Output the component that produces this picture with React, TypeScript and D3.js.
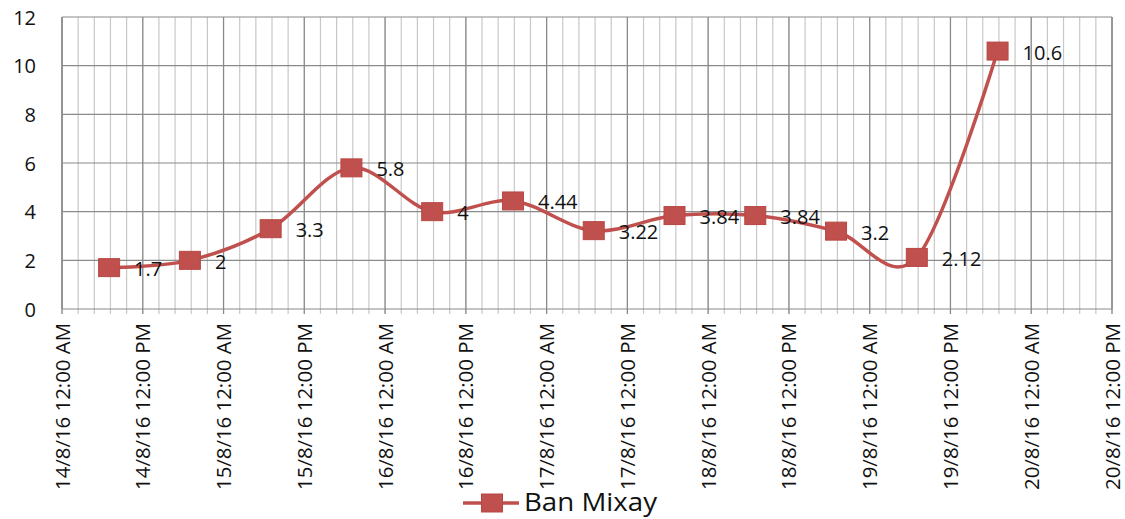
import React from "react";
import * as d3 from "d3";

const timesRaw = [
  "2016-08-14 07:00", "2016-08-14 19:00", "2016-08-15 07:00", "2016-08-15 19:00",
  "2016-08-16 07:00", "2016-08-16 19:00", "2016-08-17 07:00", "2016-08-17 19:00",
  "2016-08-18 07:00", "2016-08-18 19:00", "2016-08-19 07:00", "2016-08-19 19:00",
];
const values = [1.7, 2, 3.3, 5.8, 4, 4.44, 3.22, 3.84, 3.84, 3.2, 2.12, 10.6];
const valueLabels = ["1.7", "2", "3.3", "5.8", "4", "4.44", "3.22", "3.84", "3.84", "3.2", "2.12", "10.6"];
const yTicks = [0, 2, 4, 6, 8, 10, 12];
const xTickLabels = [
  "14/8/16 12:00 AM", "14/8/16 12:00 PM", "15/8/16 12:00 AM", "15/8/16 12:00 PM",
  "16/8/16 12:00 AM", "16/8/16 12:00 PM", "17/8/16 12:00 AM", "17/8/16 12:00 PM",
  "18/8/16 12:00 AM", "18/8/16 12:00 PM", "19/8/16 12:00 AM", "19/8/16 12:00 PM",
  "20/8/16 12:00 AM", "20/8/16 12:00 PM",
];
const seriesName = "Ban Mixay";

const parse = d3.timeParse("%Y-%m-%d %H:%M");
const times = timesRaw.map((t) => parse(t) as Date);

const W = 1125, H = 519;
const L = 62, R = 1112, T = 17, B = 309;
const RED = "#C0504D";
const FONT = "'Open Sans', Lato, sans-serif";
const TXT = "#111";

export default function App() {
  const start = new Date(2016, 7, 14, 0, 0);
  const end = new Date(2016, 7, 20, 12, 0);
  const x = d3.scaleTime().domain([start, end]).range([L, R]);
  const y = d3.scaleLinear().domain([0, 12]).range([B, T]);

  const minorStep = 2.4 * 3600 * 1000;
  const nMinor = Math.round((end.getTime() - start.getTime()) / minorStep);
  const minor = d3.range(nMinor + 1).map((i) => new Date(start.getTime() + i * minorStep));
  const major = xTickLabels.map((_, i) => new Date(start.getTime() + i * 12 * 3600 * 1000));

  const pts = times.map((t, i) => [x(t), y(values[i])] as [number, number]);
  const line = d3.line().curve(d3.curveCatmullRom.alpha(0));
  const path = line(pts) || "";

  const mw = 21, mh = 18;

  return (
    <div style={{ position: "absolute", left: 0, top: 0 }}>
      <svg width={W} height={H} style={{ display: "block", background: "#fff" }}>
        <rect x={0} y={0} width={W} height={H} fill="#fff" />
        {minor.map((d, i) => (
          <line key={"mn" + i} x1={x(d)} x2={x(d)} y1={T} y2={B + 5} stroke="#c8c8c8" strokeWidth={1.2} />
        ))}
        {major.map((d, i) => (
          <line key={"mj" + i} x1={x(d)} x2={x(d)} y1={T} y2={B + 5} stroke="#8a8a8a" strokeWidth={1.2} />
        ))}
        {yTicks.map((v) => (
          <line key={"h" + v} x1={L} x2={R} y1={y(v)} y2={y(v)} stroke="#8a8a8a" strokeWidth={1.2} />
        ))}
        <line x1={L} x2={L} y1={T} y2={B} stroke="#8a8a8a" strokeWidth={1.4} />
        <line x1={R} x2={R} y1={T} y2={B} stroke="#8a8a8a" strokeWidth={1.2} />
        {yTicks.map((v) => (
          <text key={"yt" + v} x={36} y={y(v)} textAnchor="end" dominantBaseline="central"
            fontFamily={FONT} fontSize={20} fill={TXT}>{v}</text>
        ))}
        {major.map((d, i) => (
          <text key={"xt" + i} transform={`translate(${x(d)},${323}) rotate(-90)`} textAnchor="end"
            dominantBaseline="central" fontFamily={FONT} fontSize={20} fill={TXT}
            textLength={167} lengthAdjust="spacingAndGlyphs">{xTickLabels[i]}</text>
        ))}
        <path d={path} fill="none" stroke={RED} strokeWidth={3.5} strokeLinejoin="round" />
        {pts.map(([px, py], i) => (
          <rect key={"m" + i} x={px - mw / 2} y={py - mh / 2} width={mw} height={mh} fill={RED} stroke="#b84744" strokeWidth={1} />
        ))}
        {pts.map(([px, py], i) => (
          <text key={"dl" + i} x={px + 25} y={py + 1} dominantBaseline="central" fontFamily={FONT}
            fontSize={20} fill={TXT}>{valueLabels[i]}</text>
        ))}
        <line x1={463} x2={519} y1={503} y2={503} stroke={RED} strokeWidth={3.5} />
        <rect x={492 - mw / 2} y={503 - mh / 2} width={mw} height={mh} fill={RED} stroke="#b84744" strokeWidth={1} />
        <text x={524} y={511} fontFamily={FONT} fontSize={25} fill={TXT}
          textLength={133} lengthAdjust="spacingAndGlyphs">{seriesName}</text>
      </svg>
    </div>
  );
}
